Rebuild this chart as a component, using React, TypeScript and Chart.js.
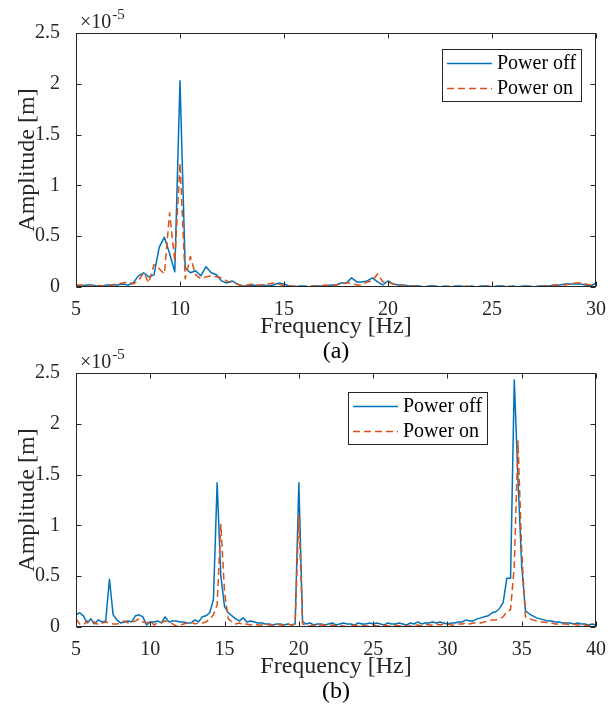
import React, { useEffect, useRef } from "react";
import { Chart, registerables } from "chart.js";

Chart.register(...registerables);

// ---------- data (amplitudes in units of 1e-5 m) ----------
const FREQ_START = 5;
const FREQ_STEP = 0.25;

const xTicksTop = [5, 10, 15, 20, 25, 30];
const xTicksBottom = [5, 10, 15, 20, 25, 30, 35, 40];
const yTicks = [0, 0.5, 1, 1.5, 2, 2.5];

const seriesLabels = ["Power off", "Power on"];

// (a) 5 Hz .. 30 Hz, 0.25 Hz spacing
const topPowerOff = [
  0.01, 0.01, 0.02, 0.02, 0.01, 0.01, 0.02, 0.02, 0.02, 0.03, 0.02,
  0.04, 0.11, 0.14, 0.10, 0.12, 0.39, 0.49, 0.33, 0.15, 2.03,
  0.19, 0.14, 0.16, 0.11, 0.20, 0.14, 0.12, 0.06, 0.04, 0.06,
  0.03, 0.01, 0.01, 0.02, 0.01, 0.02, 0.01, 0.02, 0.04, 0.03,
  0.01, 0.00, 0.01, 0.01, 0.00, 0.01, 0.01, 0.01, 0.02, 0.02,
  0.04, 0.04, 0.09, 0.05, 0.05, 0.06, 0.09, 0.05, 0.02, 0.06,
  0.03, 0.02, 0.02, 0.01, 0.01, 0.01, 0.00, 0.01, 0.01, 0.00,
  0.01, 0.00, 0.01, 0.01, 0.00, 0.01, 0.00, 0.01, 0.01, 0.00,
  0.01, 0.01, 0.00, 0.01, 0.00, 0.01, 0.01, 0.00, 0.01, 0.01,
  0.01, 0.02, 0.02, 0.03, 0.03, 0.03, 0.03, 0.02, 0.01, 0.04,
];

const topPowerOn = [
  0.02, 0.02, 0.01, 0.01, 0.02, 0.01, 0.01, 0.02, 0.03, 0.04, 0.05,
  0.03, 0.06, 0.14, 0.04, 0.22, 0.18, 0.13, 0.73, 0.25, 1.22,
  0.08, 0.30, 0.12, 0.08, 0.10, 0.11, 0.10, 0.09, 0.06, 0.04,
  0.03, 0.01, 0.02, 0.03, 0.02, 0.02, 0.03, 0.04, 0.03, 0.01,
  0.01, 0.01, 0.00, 0.00, 0.01, 0.01, 0.01, 0.02, 0.01, 0.02,
  0.03, 0.04, 0.04, 0.02, 0.02, 0.05, 0.06, 0.13, 0.05, 0.05,
  0.03, 0.02, 0.01, 0.01, 0.01, 0.00, 0.00, 0.01, 0.00, 0.00,
  0.00, 0.01, 0.00, 0.00, 0.01, 0.00, 0.00, 0.00, 0.01, 0.00,
  0.00, 0.00, 0.01, 0.00, 0.00, 0.00, 0.01, 0.00, 0.00, 0.01,
  0.01, 0.02, 0.02, 0.02, 0.03, 0.04, 0.04, 0.03, 0.02, 0.01,
];

// (b) 5 Hz .. 40 Hz, 0.25 Hz spacing
const bottomPowerOff = [
  0.12, 0.14, 0.11, 0.04, 0.08, 0.03, 0.07, 0.05, 0.06, 0.47,
  0.12, 0.07, 0.04, 0.05, 0.06, 0.05, 0.11, 0.12, 0.10, 0.02,
  0.05, 0.05, 0.06, 0.04, 0.10, 0.05, 0.06, 0.06, 0.05, 0.05,
  0.04, 0.04, 0.07, 0.05, 0.10, 0.11, 0.14, 0.27, 1.42, 0.50,
  0.20, 0.14, 0.11, 0.08, 0.06, 0.09, 0.05, 0.06, 0.05, 0.04,
  0.04, 0.03, 0.03, 0.02, 0.03, 0.03, 0.02, 0.03, 0.02, 0.03,
  1.42, 0.05, 0.03, 0.04, 0.02, 0.03, 0.03, 0.02, 0.03, 0.04,
  0.02, 0.03, 0.04, 0.03, 0.03, 0.02, 0.04, 0.03, 0.03, 0.04,
  0.03, 0.04, 0.03, 0.02, 0.04, 0.03, 0.03, 0.04, 0.03, 0.02,
  0.04, 0.03, 0.05, 0.03, 0.04, 0.04, 0.05, 0.04, 0.05, 0.04,
  0.03, 0.04, 0.04, 0.05, 0.05, 0.07, 0.06, 0.06, 0.08, 0.09,
  0.10, 0.11, 0.14, 0.15, 0.18, 0.24, 0.48, 0.48, 2.43, 1.45,
  0.60, 0.16, 0.13, 0.11, 0.09, 0.08, 0.07, 0.06, 0.06, 0.05,
  0.05, 0.04, 0.04, 0.04, 0.03, 0.04, 0.03, 0.03, 0.02, 0.03,
  0.02,
];

const bottomPowerOn = [
  0.08, 0.03, 0.02, 0.06, 0.03, 0.05, 0.02, 0.04, 0.05, 0.04,
  0.03, 0.03, 0.04, 0.06, 0.04, 0.05, 0.06, 0.08, 0.05, 0.04,
  0.06, 0.02, 0.04, 0.04, 0.06, 0.05, 0.03, 0.01, 0.02, 0.03,
  0.04, 0.05, 0.03, 0.04, 0.04, 0.05, 0.08, 0.12, 0.22, 1.01,
  0.34, 0.08, 0.05, 0.03, 0.04, 0.02, 0.03, 0.02, 0.03, 0.02,
  0.02, 0.03, 0.02, 0.02, 0.03, 0.02, 0.02, 0.03, 0.02, 0.03,
  1.10, 0.03, 0.02, 0.01, 0.02, 0.01, 0.02, 0.02, 0.01, 0.02,
  0.01, 0.02, 0.01, 0.00, 0.01, 0.02, 0.01, 0.02, 0.01, 0.01,
  0.02, 0.01, 0.01, 0.02, 0.01, 0.01, 0.02, 0.01, 0.02, 0.01,
  0.01, 0.02, 0.02, 0.01, 0.03, 0.02, 0.02, 0.03, 0.02, 0.03,
  0.03, 0.02, 0.02, 0.03, 0.03, 0.04, 0.03, 0.04, 0.04, 0.04,
  0.05, 0.06, 0.07, 0.07, 0.08, 0.10, 0.15, 0.17, 0.60, 1.83,
  0.75, 0.10, 0.08, 0.07, 0.06, 0.05, 0.05, 0.04, 0.04, 0.03,
  0.03, 0.03, 0.03, 0.02, 0.03, 0.02, 0.02, 0.02, 0.01, 0.02,
  0.01,
];

// ---------- styles ----------
const FONT = "'Liberation Serif', 'Times New Roman', serif";
const AXIS_COLOR = "#262626";
const BLUE = "#0072BD";
const ORANGE = "#D95319";
const CANVAS_W = 616;
const CANVAS_H = 374;

function toPoints(values: number[]) {
  return values.map((v, i) => ({ x: FREQ_START + i * FREQ_STEP, y: v }));
}

const matlabDecor = {
  id: "matlabDecor",
  afterDatasetsDraw(chart: any, _args: any, opts: any) {
    const { ctx, chartArea: a, scales } = chart;
    const xs = scales.x;
    const ys = scales.y;
    const L = Math.round(a.left) + 0.5;
    const R = Math.round(a.right) - 0.5;
    const T = Math.round(a.top) + 0.5;
    const B = Math.round(a.bottom) - 0.5;
    ctx.save();
    ctx.strokeStyle = AXIS_COLOR;
    ctx.lineWidth = 1;
    ctx.setLineDash([]);
    ctx.strokeRect(L, T, R - L, B - T);
    const tl = 5;
    ctx.beginPath();
    xs.ticks.forEach((t: any) => {
      const px = Math.round(xs.getPixelForValue(t.value)) + 0.5;
      ctx.moveTo(px, B);
      ctx.lineTo(px, B - tl);
      ctx.moveTo(px, T);
      ctx.lineTo(px, T + tl);
    });
    ys.ticks.forEach((t: any) => {
      const py = Math.round(ys.getPixelForValue(t.value)) + 0.5;
      ctx.moveTo(L, py);
      ctx.lineTo(L + tl, py);
      ctx.moveTo(R, py);
      ctx.lineTo(R - tl, py);
    });
    ctx.stroke();

    // exponent label
    ctx.fillStyle = AXIS_COLOR;
    ctx.textAlign = "left";
    ctx.textBaseline = "middle";
    ctx.font = `20px ${FONT}`;
    const base = "\u00d710";
    ctx.fillText(base, a.left + 4, 23);
    const bw = ctx.measureText(base).width;
    ctx.font = `15px ${FONT}`;
    ctx.fillText("-5", a.left + 4 + bw + 1, 15);

    // caption
    ctx.fillStyle = "#000";
    ctx.textAlign = "center";
    ctx.font = `24px ${FONT}`;
    ctx.fillText(opts.caption, (a.left + a.right) / 2, 352);

    // legend
    const lg = opts.legend;
    ctx.fillStyle = "#fff";
    ctx.fillRect(lg.x, lg.y, lg.w, lg.h);
    ctx.strokeStyle = AXIS_COLOR;
    ctx.lineWidth = 1;
    ctx.strokeRect(lg.x + 0.5, lg.y + 0.5, lg.w, lg.h);
    chart.data.datasets.forEach((ds: any, i: number) => {
      const yy = lg.y + 14.5 + i * 25;
      ctx.beginPath();
      ctx.strokeStyle = ds.borderColor;
      ctx.lineWidth = 1.5;
      ctx.setLineDash(ds.borderDash || []);
      ctx.moveTo(lg.x + 5, yy);
      ctx.lineTo(lg.x + 50, yy);
      ctx.stroke();
      ctx.setLineDash([]);
      ctx.fillStyle = "#000";
      ctx.textAlign = "left";
      ctx.textBaseline = "middle";
      ctx.font = `20px ${FONT}`;
      ctx.fillText(ds.label, lg.x + 55, yy);
    });
    ctx.restore();
  },
};

type Props = {
  top: number;
  off: number[];
  on: number[];
  xTicks: number[];
  caption: string;
  legend: { x: number; y: number; w: number; h: number };
};

function SpectrumChart({ top, off, on, xTicks, caption, legend }: Props) {
  const ref = useRef<HTMLCanvasElement | null>(null);
  useEffect(() => {
    if (!ref.current) return;
    const tickFont = { family: FONT, size: 20 };
    const titleFont = { family: FONT, size: 24 };
    const chart = new Chart(ref.current, {
      type: "line",
      data: {
        datasets: [
          {
            label: seriesLabels[0],
            data: toPoints(off),
            borderColor: BLUE,
            borderWidth: 1.5,
            pointRadius: 0,
            tension: 0,
            fill: false,
            borderJoinStyle: "round",
            order: 1,
          },
          {
            label: seriesLabels[1],
            data: toPoints(on),
            borderColor: ORANGE,
            borderWidth: 1.5,
            borderDash: [7, 4],
            pointRadius: 0,
            tension: 0,
            fill: false,
            borderJoinStyle: "round",
            order: 0,
          },
        ],
      },
      options: {
        animation: false,
        responsive: false,
        devicePixelRatio: 1,
        layout: { padding: { top: 33, right: 20, left: 0, bottom: 0 } },
        plugins: {
          legend: { display: false },
          tooltip: { enabled: false },
          matlabDecor: { caption, legend },
        } as any,
        scales: {
          x: {
            type: "linear",
            min: xTicks[0],
            max: xTicks[xTicks.length - 1],
            afterFit: (s: any) => {
              s.height = 87;
            },
            afterBuildTicks: (s: any) => {
              s.ticks = xTicks.map((v) => ({ value: v }));
            },
            grid: { display: false },
            border: { display: false },
            ticks: {
              font: tickFont,
              color: AXIS_COLOR,
              padding: 3,
              maxRotation: 0,
              autoSkip: false,
              callback: (v: any) => String(v),
            },
            title: {
              display: true,
              text: "Frequency [Hz]",
              font: titleFont,
              color: AXIS_COLOR,
              padding: { top: 0, bottom: 33 },
            },
          },
          y: {
            type: "linear",
            min: yTicks[0],
            max: yTicks[yTicks.length - 1],
            afterFit: (s: any) => {
              s.width = 76;
            },
            afterBuildTicks: (s: any) => {
              s.ticks = yTicks.map((v) => ({ value: v }));
            },
            grid: { display: false },
            border: { display: false },
            ticks: {
              font: tickFont,
              color: AXIS_COLOR,
              padding: 8,
              autoSkip: false,
              callback: (v: any) => String(Math.round(Number(v) * 10) / 10),
            },
            title: {
              display: true,
              text: "Amplitude [m]",
              font: titleFont,
              color: AXIS_COLOR,
              padding: { top: 13, bottom: 0 },
            },
          },
        },
      } as any,
      plugins: [matlabDecor as any],
    });
    return () => chart.destroy();
  }, [top, off, on, xTicks, caption, legend]);
  return (
    <canvas
      ref={ref}
      width={CANVAS_W}
      height={CANVAS_H}
      style={{ position: "absolute", left: 0, top, width: CANVAS_W, height: CANVAS_H, display: "block" }}
    />
  );
}

const legendTop = { x: 442, y: 49, w: 139, h: 52 };
const legendBottom = { x: 348, y: 52, w: 139, h: 52 };

export default function App() {
  return (
    <div style={{ position: "absolute", left: 0, top: 0, width: 616, height: 714, background: "#fff", overflow: "hidden" }}>
      <SpectrumChart top={0} off={topPowerOff} on={topPowerOn} xTicks={xTicksTop} caption="(a)" legend={legendTop} />
      <SpectrumChart top={340} off={bottomPowerOff} on={bottomPowerOn} xTicks={xTicksBottom} caption="(b)" legend={legendBottom} />
    </div>
  );
}
